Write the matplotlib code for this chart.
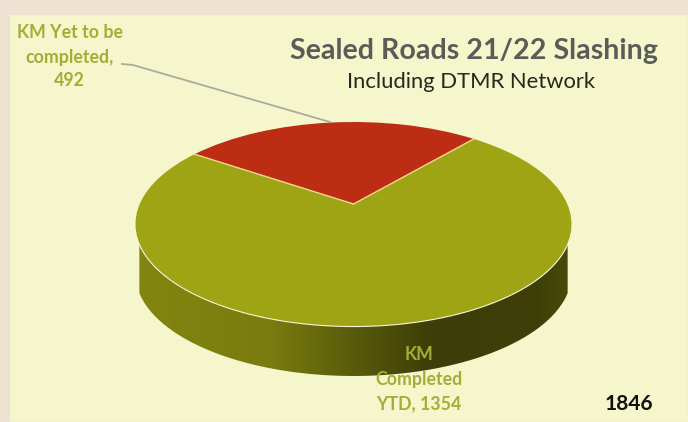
import numpy as np
import matplotlib
matplotlib.use("Agg")
import matplotlib.pyplot as plt
from matplotlib.patches import Rectangle, PathPatch
from matplotlib.path import Path
from matplotlib.transforms import Transform
from matplotlib.colors import LinearSegmentedColormap

categories = ["KM Yet to be\ncompleted,\n492", "KM\nCompleted\nYTD, 1354"]
values = [492, 1354]
total_label = "1846"
title = "Sealed Roads 21/22 Slashing"
subtitle = "Including DTMR Network"
colors = ["#BD2D13", "#9EA414"]

W, H = 688, 422
plt.rcParams['font.family'] = ['Lato', 'DejaVu Sans']
fig = plt.figure(figsize=(W/100, H/100), dpi=100, facecolor="#EFE2D3")

def fx(x): return x/W
def fy(y): return 1 - y/H

fig.add_artist(Rectangle((fx(9), 0), 1-fx(9), fy(14), transform=fig.transFigure,
                         facecolor="#F5F6CB", edgecolor="#E8E6C8", lw=1, zorder=-1))

K = 0.196
class Persp(Transform):
    input_dims = output_dims = 2
    def transform_non_affine(self, xy):
        xy = np.asarray(xy, float)
        d = 1 + K*xy[:, 1]
        return np.column_stack((xy[:, 0]*np.sqrt(1-K*K)/d, (xy[:, 1]+K)/d))
    def inverted(self):
        raise NotImplementedError

L, R, T, B = 135.5, 571.5, 122, 326
ax = fig.add_axes([fx(L), fy(B), (R-L)/W, (B-T)/H], zorder=1)
wedges, _ = ax.pie(values, colors=colors, startangle=49.7, radius=1, counterclock=True,
                   wedgeprops=dict(edgecolor="none", linewidth=0))
ax.set_aspect('auto')
ax.axis('off')
pt = Persp() + ax.transData
for w in wedges:
    w.set_transform(pt)
    w.set_clip_on(False)
    w.set_zorder(5)

# light seams along the two slice borders
for ang in (wedges[0].theta1, wedges[0].theta2):
    a = np.deg2rad(ang)
    ax.plot([0, np.cos(a)], [0, np.sin(a)], color="#F2D98A", lw=1.0, zorder=6,
            transform=pt, clip_on=False)

# side wall
depth = 50/102
th = np.linspace(-0.06*np.pi, -np.pi+0.06*np.pi, 200)
xs, ys = np.cos(th), np.sin(th)
poly = np.vstack((np.column_stack((xs, ys)), np.column_stack((xs[::-1], ys[::-1]-depth))))
cm = LinearSegmentedColormap.from_list("side", [(0, "#82850F"), (0.3, "#7A7D0E"), (0.48, "#5C5E0B"),
                                                (0.68, "#3C3D08"), (0.92, "#3E3F08"), (1, "#4A4C09")])
im = ax.imshow(np.linspace(0, 1, 256)[None, :], extent=(-1, 1, -1-depth-0.1, 0.2), cmap=cm,
               aspect='auto', zorder=2)
patch = PathPatch(Path(poly), transform=ax.transData, facecolor='none', edgecolor='none')
ax.add_patch(patch)
im.set_clip_box(fig.bbox)
im.set_clip_path(patch)
ax.set_xlim(-1, 1)
ax.set_ylim(-1, 1)

# white rim
rim = np.linspace(-0.05*np.pi, -np.pi+0.05*np.pi, 200)
ax.plot(np.cos(rim), np.sin(rim), color="#F6F6DC", lw=1.6, zorder=4, clip_on=False)

# leader
fig.add_artist(plt.Line2D([fx(122), fx(133), fx(330)], [fy(64), fy(65), fy(122)],
                          color="#A9AC9A", lw=1.3, zorder=3))

lab = "#A3AE36"
for line, yy, xx in zip(categories[0].split("\n"), (32, 57, 81), (70, 69, 69)):
    fig.text(fx(xx), fy(yy), line, color=lab, fontsize=12.8, fontweight='bold', ha='center', va='center', zorder=10)
for line, yy, xx in zip(categories[1].split("\n"), (355, 380, 404), (419, 419, 419)):
    fig.text(fx(xx), fy(yy), line, color=lab, fontsize=12.8, fontweight='bold', ha='center', va='center', zorder=10)
fig.text(fx(473.5), fy(51), title, color="#5A5C58", fontsize=20.6, fontweight='bold', ha='center', va='center', zorder=10)
fig.text(fx(471), fy(82), subtitle, color="#25291F", fontsize=15.8, ha='center', va='center', zorder=10)
fig.text(fx(629), fy(404), total_label, color="#111111", fontsize=15, fontweight='bold', ha='center', va='center', zorder=10)

fig.savefig("out.png", dpi=100, facecolor=fig.get_facecolor())
